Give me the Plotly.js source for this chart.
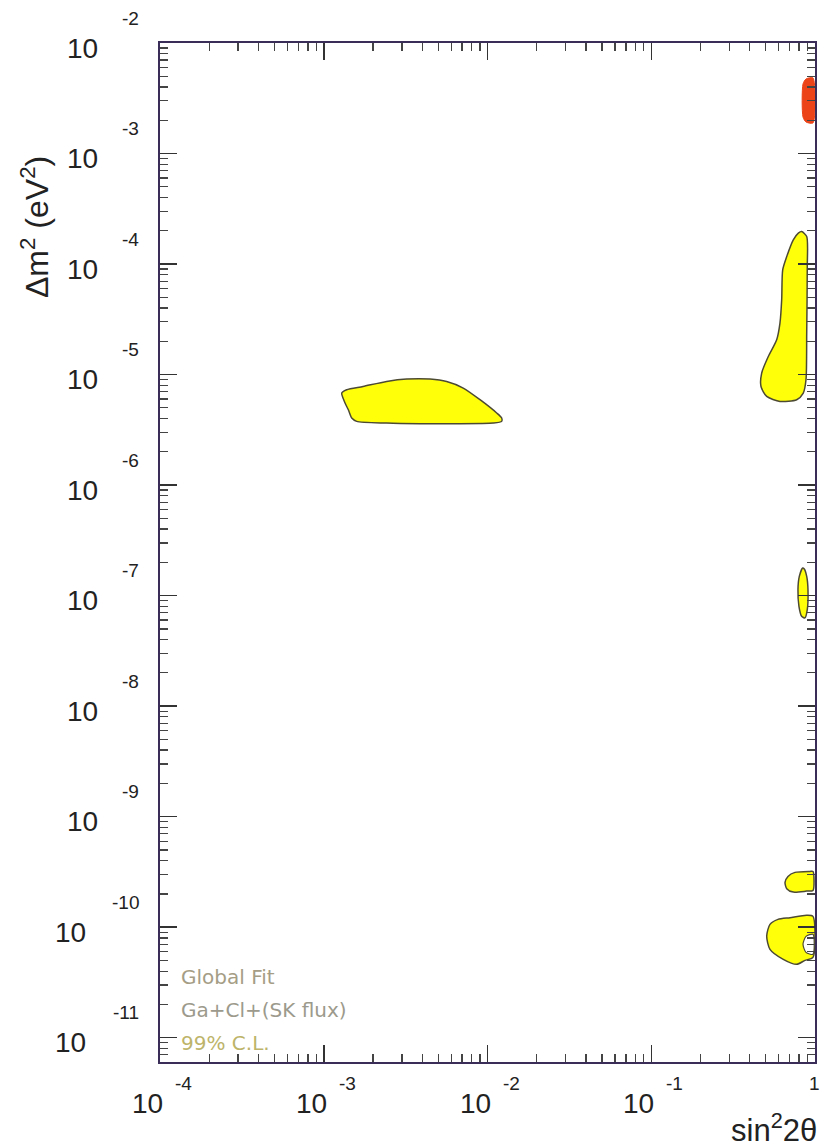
<!DOCTYPE html>
<html><head><meta charset="utf-8">
<script src="https://cdn.plot.ly/plotly-3.0.1.min.js"></script>
<style>html,body{margin:0;padding:0;background:#fff}#chart{width:827px;height:1147px}</style>
</head><body><div id="chart"></div>
<script>
// ---- tick labels ----
const xTickVals = [1e-4, 1e-3, 1e-2, 1e-1, 1];
const xTickBases = ['10', '10', '10', '10', ''];
const xTickExps = ['-4', '-3', '-2', '-1', '1'];
const yTickVals = [1e-2, 1e-3, 1e-4, 1e-5, 1e-6, 1e-7, 1e-8, 1e-9, 1e-10, 1e-11];
const yTickExps = ['-2', '-3', '-4', '-5', '-6', '-7', '-8', '-9', '-10', '-11'];

// ---- allowed regions (sin^2 2theta, dm^2 in eV^2) ----
// small-mixing-angle MSW island
const smaX = [1.288e-3, 1.380e-3, 1.738e-3, 2.42e-3, 3.21e-3, 4.46e-3, 5.63e-3, 7.11e-3, 9.0e-3, 1.138e-2, 1.221e-2, 1.221e-2, 1.085e-2, 6.18e-3, 3.87e-3, 2.42e-3, 1.589e-3, 1.482e-3, 1.413e-3, 1.349e-3, 1.288e-3];
const smaY = [6.80e-6, 7.29e-6, 7.80e-6, 8.66e-6, 9.11e-6, 9.11e-6, 8.66e-6, 7.55e-6, 5.92e-6, 4.49e-6, 4.04e-6, 3.77e-6, 3.64e-6, 3.59e-6, 3.59e-6, 3.64e-6, 3.77e-6, 4.04e-6, 4.80e-6, 5.53e-6, 6.80e-6];
// large-mixing-angle MSW region
const lmaX = [0.829, 0.890, 0.897, 0.890, 0.881, 0.848, 0.773, 0.611, 0.507, 0.468, 0.4725, 0.5187, 0.5835, 0.611, 0.626, 0.635, 0.672, 0.737, 0.791, 0.829];
const lmaY = [1.967e-4, 1.773e-4, 9.49e-5, 2.372e-5, 8.97e-6, 6.80e-6, 5.92e-6, 5.71e-6, 6.34e-6, 7.80e-6, 1.032e-5, 1.458e-5, 2.064e-5, 2.92e-5, 4.75e-5, 8.86e-5, 1.169e-4, 1.655e-4, 1.903e-4, 1.967e-4];
// red region near the top
const redX = [0.972, 0.881, 0.845, 0.845, 0.881, 0.972, 0.972];
const redY = [4.83e-3, 4.72e-3, 4.26e-3, 2.14e-3, 1.93e-3, 1.891e-3, 4.83e-3];
// vacuum-like island near 1e-7
const vacX = [0.841, 0.802, 0.787, 0.798, 0.829, 0.869, 0.897, 0.906, 0.890, 0.860, 0.841];
const vacY = [1.78e-7, 1.494e-7, 1.133e-7, 8.0e-8, 6.50e-8, 6.29e-8, 7.47e-8, 1.133e-7, 1.494e-7, 1.743e-7, 1.78e-7];
// just-so island ~3e-10
const js1X = [0.972, 0.932, 0.755, 0.684, 0.656, 0.672, 0.737, 0.890, 0.972, 0.972];
const js1Y = [3.195e-10, 3.195e-10, 3.13e-10, 2.88e-10, 2.54e-10, 2.23e-10, 2.077e-10, 2.12e-10, 2.15e-10, 3.195e-10];
// just-so island ~7e-11
const js2X = [0.972, 0.890, 0.704, 0.594, 0.531, 0.507, 0.531, 0.640, 0.773, 0.869, 0.972, 0.972];
const js2Y = [1.252e-10, 1.279e-10, 1.219e-10, 1.176e-10, 1.060e-10, 8.31e-11, 6.30e-11, 5.12e-11, 4.61e-11, 5.01e-11, 5.33e-11, 1.252e-10];
// excluded hole inside it
const holeX = [0.972, 0.881, 0.845, 0.881, 0.972, 0.972];
const holeY = [8.61e-11, 8.25e-11, 6.99e-11, 5.92e-11, 5.68e-11, 8.61e-11];

const legendLines = ['Global Fit', 'Ga+Cl+(SK flux)', '99% C.L.'];

const YELLOW = '#ffff0a', EDGE = '#4d4a33', RED = '#ec4418';
function region(x, y, fill, edge, w) {
  return {x: x, y: y, type: 'scatter', mode: 'lines', fill: 'toself', fillcolor: fill,
    line: {color: edge, width: w, shape: 'spline', smoothing: 0.7}, hoverinfo: 'skip', showlegend: false};
}
const traces = [
  region(smaX, smaY, YELLOW, EDGE, 1.5),
  region(lmaX, lmaY, YELLOW, EDGE, 1.5),
  region(redX, redY, RED, RED, 1),
  region(vacX, vacY, YELLOW, EDGE, 1.5),
  region(js1X, js1Y, YELLOW, EDGE, 1.5),
  region(js2X, js2Y, YELLOW, EDGE, 1.5),
  region(holeX, holeY, '#ffffff', EDGE, 1.2)
];

const ann = [];
const LF = 'Liberation Sans, Arial, sans-serif';
xTickVals.forEach((v, i) => {
  const lx = Math.log10(v);
  if (xTickBases[i]) ann.push({x: lx, xref: 'x', y: 0, yref: 'paper', text: xTickBases[i], showarrow: false,
    xanchor: 'right', yanchor: 'middle', xshift: 5, yshift: -41, font: {family: LF, size: 28, color: '#222'}});
  ann.push({x: lx, xref: 'x', y: 0, yref: 'paper', text: xTickExps[i], showarrow: false,
    xanchor: xTickBases[i] ? 'left' : 'center', yanchor: 'middle', xshift: xTickBases[i] ? 13 : -1, yshift: -21,
    font: {family: LF, size: 19, color: '#222'}});
});
yTickVals.forEach((v, i) => {
  const ly = Math.log10(v);
  const long = yTickExps[i].length > 2;
  ann.push({x: 0, xref: 'paper', y: ly, yref: 'y', text: '10', showarrow: false,
    xanchor: 'right', yanchor: 'middle', xshift: long ? -72 : -60, yshift: -5, font: {family: LF, size: 28, color: '#222'}});
  ann.push({x: 0, xref: 'paper', y: ly, yref: 'y', text: yTickExps[i], showarrow: false,
    xanchor: 'right', yanchor: 'middle', xshift: -19, yshift: 25, font: {family: LF, size: 19, color: '#222'}});
});
// axis titles
ann.push({x: 0, xref: 'paper', y: 1, yref: 'paper', text: '\u0394m<sup>2</sup> (eV<sup>2</sup>)', textangle: -90,
  showarrow: false, xanchor: 'center', yanchor: 'middle', xshift: -125, yshift: -184,
  font: {family: LF, size: 32, color: '#222'}});
ann.push({x: 1, xref: 'paper', y: 0, yref: 'paper', text: 'sin<sup>2</sup>2\u03b8', showarrow: false,
  xanchor: 'right', yanchor: 'middle', xshift: 4, yshift: -66, font: {family: LF, size: 31, color: '#222'}});
// in-plot legend text
const legCols = ['#a59d85', '#9c9a8c', '#bdb46a'];
legendLines.forEach((t, i) => {
  ann.push({x: 0, xref: 'paper', y: 0, yref: 'paper', text: t, showarrow: false, xanchor: 'left', yanchor: 'middle',
    xshift: 19, yshift: 85 - i * 33, font: {family: 'DejaVu Sans, sans-serif', size: 20, color: legCols[i]}});
});

const axBase = {
  type: 'log', showline: true, linecolor: '#3a2d58', linewidth: 2, mirror: 'allticks',
  ticks: 'inside', ticklen: 17, tickwidth: 1.5, tickcolor: '#333', tickmode: 'array',
  showticklabels: false, showgrid: false, zeroline: false,
  minor: {ticks: 'inside', ticklen: 8, tickwidth: 1.3, tickcolor: '#444', dtick: 'D1', showgrid: false}
};
const layout = {
  width: 827, height: 1147,
  margin: {l: 160, r: 12, t: 43, b: 85},
  paper_bgcolor: '#ffffff', plot_bgcolor: '#ffffff',
  showlegend: false,
  xaxis: Object.assign({}, axBase, {range: [-4, 0], tickvals: xTickVals}),
  yaxis: Object.assign({}, axBase, {range: [-11.22, -2], tickvals: yTickVals}),
  annotations: ann
};
Plotly.newPlot('chart', traces, layout, {staticPlot: true, displayModeBar: false});
</script></body></html>
